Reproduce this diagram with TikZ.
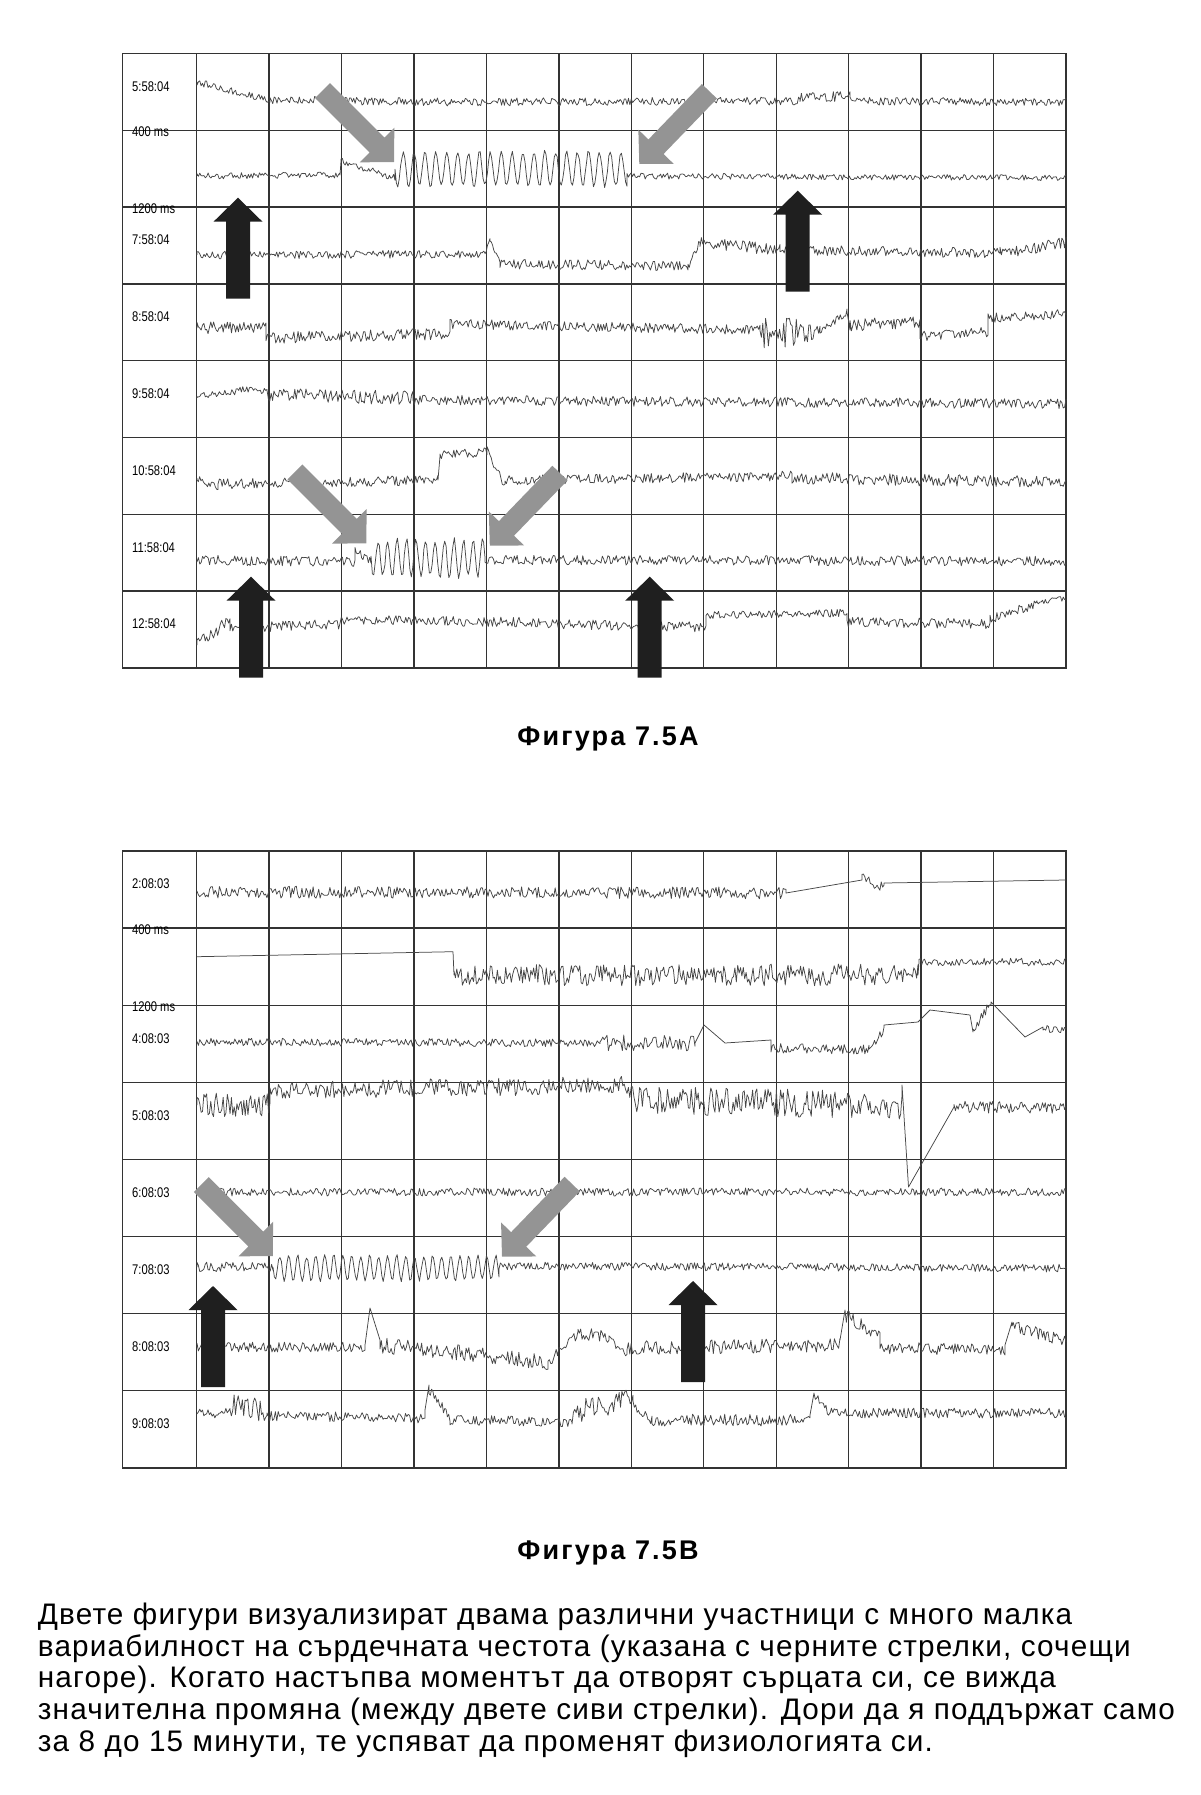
\documentclass[tikz,border=0pt]{standalone}
\usepackage{fontspec}
\setmainfont{Liberation Sans}
\newfontfamily\stampfont[FakeStretch=0.8]{Liberation Sans}
\newfontfamily\figfont[LetterSpace=8]{Liberation Sans}
\newfontfamily\parafont[LetterSpace=4]{Liberation Sans}
\usepackage{tikz}

\tikzset{
  grid line/.style={draw=black!80, line width=1.4pt},
  trace/.style={draw=black!72, line width=0.75pt, line join=round},
  stamp/.style={font=\stampfont\fontsize{14}{14}\selectfont, anchor=west, inner sep=0pt},
  figcap/.style={font=\figfont\bfseries\fontsize{27}{27}\selectfont, anchor=base, inner sep=0pt},
  para/.style={font=\parafont\fontsize{29.7}{31}\selectfont, anchor=base west, inner sep=0pt},
  gray arrow/.style={fill=black!42},
  black arrow/.style={fill=black!88}
}

% chart frame: top, row height
\newcommand\chart[2]{%
  \draw[grid line] (122.5,#1) rectangle (1066,{#1+8*#2});
  \foreach \i in {0,...,11}
    \draw[grid line] ({196.7+72.44*\i},#1) -- ({196.7+72.44*\i},{#1+8*#2});
  \foreach \j in {1,...,7}
    \draw[grid line] (122.5,{#1+\j*#2}) -- (1066,{#1+\j*#2});
}
% one R-R trace: wave period, start, segments x0/y0/x1/y1/noise/wave
\newcommand\trace[3]{%
  \draw[trace] (#2) \foreach \xa/\ya/\xb/\yb/\nz/\wv in {#3} {
    -- plot[domain=\xa:\xb, samples={int((\xb-\xa)/1.4)+2}]
       (\x,{\ya+(\yb-\ya)*((\x-\xa)/(\xb-\xa))+\nz*rand+\wv*sin(360*mod((\x-\xa)/#1,1))})
  };
}
% block arrow: style, tip, angle, half shaft
\newcommand\blockarrow[4]{%
  \fill[#1, shift={(#2)}, rotate=#3] (-101,-#4) -- (-24,-#4) -- (-24,-24.5) -- (0,0)
    -- (-24,24.5) -- (-24,#4) -- (-101,#4) -- cycle;
}

\begin{document}
\begin{tikzpicture}[x=1pt, y=-1pt]
\useasboundingbox (0,0) rectangle (1200,1795);
\pgfmathsetseed{7513}
%----------------------------------
% Figure 7.5A
\chart{53.5}{76.8}
\trace{10}{197,82}{197/82/270/100/3.5/0, 270/100/450/102/4/0, 450/102/800/101/4/0,
  800/98/850/96/5/0, 850/101/1066/102/4/0}
\trace{10.9}{197,176}{197/176/340/175/3/0, 340/175/341/161/0/0, 341/161/395/178/3.5/0,
  395/169/627/169/2/17, 627/176/1066/178/3/0}
\trace{10}{197,255}{197/255/485/254/4/0, 485/254/490/237/2/0, 490/240/500/262/2/0,
  500/264/688/266/5/0, 688/266/700/242/4/0, 700/242/780/250/6/0, 780/250/1000/253/5/0,
  1000/253/1066/243/6/0}
\trace{10}{197,328}{197/328/266/326/6/0, 266/338/450/334/6/0, 450/324/760/330/5/0,
  760/333/820/333/15/0, 820/333/847/312/4/0, 847/312/850/330/0/0, 850/325/920/322/6/0,
  920/336/988/332/5/0, 988/318/1066/314/5/0}
\trace{10}{197,396}{197/396/236/392/3/0, 236/389/267/391/3/0, 267/395/413/398/7/0,
  413/400/1066/404/5/0}
\trace{10}{197,478}{197/478/218/488/4/0, 218/484/438/480/5/0, 438/480/440/456/0/0,
  440/455/487/452/5/0, 487/452/505/484/6/0, 505/480/792/476/5/0, 792/478/1066/482/6/0}
\trace{9.5}{197,560}{197/560/355/562/5/0, 355/550/371/562/4/0, 371/558/485/558/3/18,
  485/560/1066/561/5/0}
\trace{10}{197,645}{197/645/230/620/6/0, 230/628/340/624/5/0, 340/620/540/622/5/0,
  540/624/706/627/5/0, 706/615/847/613/4/0, 847/622/990/624/5/0, 990/620/1037/603/5/0,
  1037/602/1066/598/3/0}
%----------------------------------
% Figure 7.5B
\chart{851}{77.1}
\trace{10}{197,892}{197/892/786/893/6/0, 786/893/862/880/0/0, 862/878/884/888/5/0,
  884/883/1066/880/0/0}
\trace{10}{197,956.7}{197/956.7/453/951.7/0/0, 453/951.7/454/975/0/0, 454/975/918/975/11/0,
  918/975/919/962/0/0, 919/962/1066/962/4/0}
\trace{10}{197,1042}{197/1042/600/1043/4/0, 600/1043/695/1043/8/0, 695/1043/704/1025/0/0,
  704/1025/725/1043/0/0, 725/1043/771/1040/0/0, 771/1048/869/1050/5/0, 869/1050/884/1030/4/0,
  884/1025/918/1022/0/0, 918/1022/930/1010/0/0, 930/1010/970/1015/0/0, 970/1015/973/1032/0/0,
  973/1032/991/1002/6/0, 991/1002/1025/1037/0/0, 1025/1037/1043/1027/0/0, 1043/1027/1066/1032/5/0}
\trace{10}{197,1105}{197/1105/270/1105/12/0, 270/1090/627/1085/9/0, 627/1100/902/1105/14/0,
  902/1085/908.5/1187/0/0, 908.5/1187/954/1107/0/0, 954/1107/1066/1108/6/0}
\trace{10}{197,1192}{197/1192/1066/1192/4/0}
\trace{9}{197,1267}{197/1267/273/1267/5/0, 273/1268/499/1268/2/12, 499/1266/1066/1268/4/0}
\trace{10}{197,1347}{197/1347/365/1347/5/0, 365/1345/370/1308/0/0, 370/1308/380/1340/0/0,
  380/1345/548/1362/8/0, 548/1362/578/1335/6/0, 578/1333/609/1337/7/0, 609/1340/627/1353/5/0,
  627/1348/840/1345/7/0, 840/1340/845/1310/0/0, 845/1315/880/1335/7/0, 880/1348/1005/1350/6/0,
  1005/1345/1012/1322/0/0, 1012/1325/1066/1342/6/0}
\trace{10}{197,1413}{197/1413/230/1413/5/0, 230/1405/267/1410/12/0, 267/1416/425/1418/5/0,
  425/1410/429/1385/0/0, 429/1390/450/1418/5/0, 450/1420/572/1422/5/0, 572/1412/633/1400/12/0,
  633/1405/652/1420/5/0, 652/1420/810/1420/6/0, 810/1415/814/1393/0/0, 814/1395/830/1413/4/0,
  830/1413/1066/1413/5/0}
%----------------------------------
% arrows
\blockarrow{gray arrow}{394,162}{-45}{10.5}
\blockarrow{gray arrow}{639.3,164}{-134}{10.5}
\blockarrow{gray arrow}{366.3,543.3}{-45}{10.5}
\blockarrow{gray arrow}{489.8,545.7}{-134}{10.5}
\blockarrow{gray arrow}{272.8,1256}{-45}{10.5}
\blockarrow{gray arrow}{502,1256.7}{-134}{10.5}
\blockarrow{black arrow}{238,197.7}{90}{12}
\blockarrow{black arrow}{797.7,190.7}{90}{12}
\blockarrow{black arrow}{251,576.7}{90}{12}
\blockarrow{black arrow}{649.7,576.7}{90}{12}
\blockarrow{black arrow}{213,1286}{90}{12}
\blockarrow{black arrow}{693,1281}{90}{12}
%----------------------------------
% stamps
\node[stamp] (a1) at (132,86.4) {5:58:04};
\node[stamp] (a400) at (132,131.6) {400 ms};
\node[stamp] (a1200) at (132,208.4) {1200 ms};
\node[stamp] (a3) at (132,240) {7:58:04};
\node[stamp] (a4) at (132,316.8) {8:58:04};
\node[stamp] (a5) at (132,393.6) {9:58:04};
\node[stamp] (a6) at (132,470.4) {10:58:04};
\node[stamp] (a7) at (132,547.2) {11:58:04};
\node[stamp] (a8) at (132,624) {12:58:04};
\node[stamp] (b1) at (132,884) {2:08:03};
\node[stamp] (b400) at (132,929.3) {400 ms};
\node[stamp] (b1200) at (132,1006.4) {1200 ms};
\node[stamp] (b3) at (132,1038.3) {4:08:03};
\node[stamp] (b4) at (132,1115.4) {5:08:03};
\node[stamp] (b5) at (132,1192.5) {6:08:03};
\node[stamp] (b6) at (132,1269.6) {7:08:03};
\node[stamp] (b7) at (132,1346.7) {8:08:03};
\node[stamp] (b8) at (132,1423.8) {9:08:03};
%----------------------------------
% captions
\node[figcap] (capA) at (608,745) {Фигура 7.5A};
\node[figcap] (capB) at (608,1559) {Фигура 7.5B};
\foreach \ln [count=\i] in {%
  {Двете фигури визуализират двама различни участници с много малка},
  {вариабилност на сърдечната честота (указана с черните стрелки, сочещи},
  {нагоре). Когато настъпва моментът да отворят сърцата си, се вижда},
  {значителна промяна (между двете сиви стрелки). Дори да я поддържат само},
  {за 8 до 15 минути, те успяват да променят физиологията си.}}
  \node[para] (line\i) at (37.7,{1624.5+31.65*(\i-1)}) {\ln};
\end{tikzpicture}
\end{document}
